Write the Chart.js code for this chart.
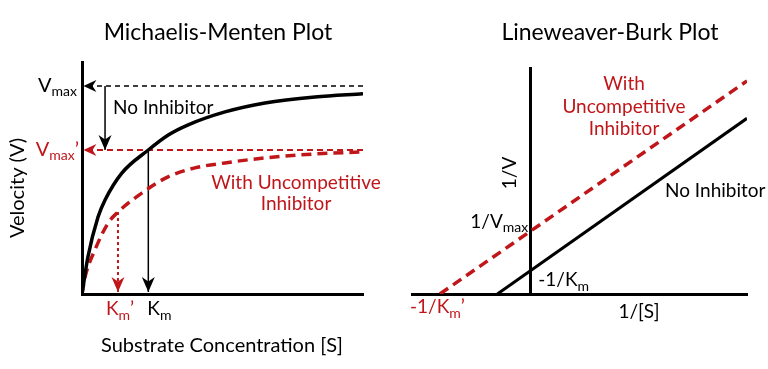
<!DOCTYPE html>
<html lang="en">
<head>
<meta charset="UTF-8" />
<title>Michaelis-Menten and Lineweaver-Burk Plots</title>
<script src="https://cdn.jsdelivr.net/npm/chart.js"></script>
<style>
  body { margin: 0; background: #fff; }
  .wrap { position: relative; width: 768px; height: 369px; }
  canvas { position: absolute; top: 0; }
  #mm { left: 0; }
  #lb { left: 384px; }
</style>
</head>
<body>
<div class="wrap">
  <canvas id="mm" width="384" height="369"></canvas>
  <canvas id="lb" width="384" height="369"></canvas>
</div>
<script>
// Michaelis-Menten curves (S in arbitrary units, V relative to Vmax)
const mmS      = [0, 0.21, 0.57, 0.82, 1.41, 2.36, 3.07, 3.78, 5.09, 6.51, 8.29, 10];
const mmV      = [0, 0.178, 0.370, 0.452, 0.580, 0.692, 0.764, 0.813, 0.875, 0.918, 0.947, 0.962];
const mmSInhib = [0, 0.11, 0.46, 0.93, 1.28, 2.14, 3.06, 4.02, 5.09, 6.51, 8.29, 10];
const mmVInhib = [0, 0.082, 0.212, 0.341, 0.394, 0.486, 0.563, 0.606, 0.630, 0.654, 0.673, 0.683];
const vmax = 1.0, vmaxPrime = 0.692;
const km = 2.36, kmPrime = 1.28, kmPrimeV = 0.394;
const dropS = 0.82;   // where the Vmax -> Vmax' arrow sits

// Lineweaver-Burk lines (1/[S], 1/V)
const lbX      = [-1.0, 6.6];
const lbY      = [0, 6.53];
const lbXInhib = [-2.75, 6.6];
const lbYInhib = [0, 7.92];

const RED = '#c0161a';
const FONT = 'Lato, "Open Sans", sans-serif';

const pts = (xs, ys) => xs.map((x, i) => ({ x: x, y: ys[i] }));

function arrowHead(ctx, x, y, ang, len, half, color) {
  ctx.save();
  ctx.translate(x, y);
  ctx.rotate(ang);
  ctx.beginPath();
  ctx.moveTo(0, 0);
  ctx.lineTo(-len, -half);
  ctx.lineTo(-len * 0.7, 0);
  ctx.lineTo(-len, half);
  ctx.closePath();
  ctx.fillStyle = color;
  ctx.fill();
  ctx.restore();
}

// parts: [text, size, dy]
function rich(ctx, parts, x, y, align, color) {
  ctx.save();
  ctx.fillStyle = color;
  ctx.textBaseline = 'alphabetic';
  ctx.textAlign = 'left';
  let w = 0;
  parts.forEach(p => { ctx.font = p[1] + 'px ' + FONT; w += ctx.measureText(p[0]).width; });
  let cx = align === 'right' ? x - w : align === 'center' ? x - w / 2 : x;
  parts.forEach(p => {
    ctx.font = p[1] + 'px ' + FONT;
    ctx.fillText(p[0], cx, y + (p[2] || 0));
    cx += ctx.measureText(p[0]).width;
  });
  ctx.restore();
}

function text(ctx, s, x, y, size, color, rot) {
  ctx.save();
  ctx.font = size + 'px ' + FONT;
  ctx.fillStyle = color;
  ctx.textAlign = 'center';
  ctx.textBaseline = 'middle';
  ctx.translate(x, y);
  if (rot) ctx.rotate(rot);
  ctx.fillText(s, 0, 0);
  ctx.restore();
}

// arrow heads at the last point of datasets flagged with `arrow`
const arrows = {
  id: 'arrows',
  afterDatasetsDraw(chart) {
    const ctx = chart.ctx;
    chart.data.datasets.forEach((ds, i) => {
      if (!ds.arrow) return;
      const el = chart.getDatasetMeta(i).data;
      const a = el[el.length - 2], b = el[el.length - 1];
      arrowHead(ctx, b.x, b.y, Math.atan2(b.y - a.y, b.x - a.x), ds.arrow[0], ds.arrow[1], ds.borderColor);
    });
  }
};

const mmLabels = {
  id: 'mmLabels',
  afterDraw(chart) {
    const ctx = chart.ctx, xs = chart.scales.x, ys = chart.scales.y, a = chart.chartArea;
    text(ctx, 'Michaelis-Menten Plot', 218, 33, 23, '#000');
    rich(ctx, [['V', 20], ['max', 14, 4]], a.left - 5, ys.getPixelForValue(vmax) + 6, 'right', '#000');
    rich(ctx, [['V', 20], ['max', 14, 4], ['\u2019', 20]], a.left - 3, ys.getPixelForValue(vmaxPrime) + 6, 'right', RED);
    rich(ctx, [['No Inhibitor', 19]], xs.getPixelForValue(dropS) + 8, ys.getPixelForValue(vmax) + 28, 'left', '#000');
    text(ctx, 'With Uncompetitive', 296, ys.getPixelForValue(vmaxPrime) + 33, 19, RED);
    text(ctx, 'Inhibitor', 296, ys.getPixelForValue(vmaxPrime) + 54, 19, RED);
    rich(ctx, [['K', 19], ['m', 14, 5], ['\u2019', 19]], xs.getPixelForValue(kmPrime) - 12, a.bottom + 21, 'left', RED);
    rich(ctx, [['K', 19], ['m', 14, 5]], xs.getPixelForValue(km) - 1, a.bottom + 21, 'left', '#000');
    text(ctx, 'Substrate Concentration [S]', 222, 346, 20, '#000');
    text(ctx, 'Velocity (V)', 18, 188, 20, '#000', -Math.PI / 2);
  }
};

const lbLabels = {
  id: 'lbLabels',
  afterDraw(chart) {
    const ctx = chart.ctx, xs = chart.scales.x, a = chart.chartArea;
    const x0 = xs.getPixelForValue(0);
    text(ctx, 'Lineweaver-Burk Plot', 226, 33, 23, '#000');
    text(ctx, '1/V', x0 - 20, 173, 19, '#000', -Math.PI / 2);
    rich(ctx, [['1/V', 19], ['max', 14, 4]], x0 - 2, 228, 'right', '#000');
    rich(ctx, [['-1/K', 19], ['m', 14, 5]], x0 + 8, a.bottom - 8, 'left', '#000');
    rich(ctx, [['-1/K', 19], ['m', 14, 5], ['\u2019', 19]], a.left - 2, a.bottom + 19, 'left', RED);
    text(ctx, '1/[S]', 255, 312, 19, '#000');
    rich(ctx, [['No Inhibitor', 19]], 281, 197, 'left', '#000');
    text(ctx, 'With', 240, 84, 19, RED);
    text(ctx, 'Uncompetitive', 240, 107, 19, RED);
    text(ctx, 'Inhibitor', 240, 129, 19, RED);
  }
};

const axisOpts = (min, max, extra) => Object.assign({
  type: 'linear', min: min, max: max,
  grid: { display: false, drawTicks: false },
  ticks: { display: false },
  border: { display: true, color: '#000', width: 3 }
}, extra || {});

const line = (data, color, width, dash, extra) => Object.assign({
  data: data, borderColor: color, borderWidth: width, borderDash: dash || [],
  pointRadius: 0, showLine: true, fill: false
}, extra || {});

new Chart(document.getElementById('mm'), {
  type: 'scatter',
  data: {
    datasets: [
      line(pts(mmS, mmV), '#000', 3.5, [], { cubicInterpolationMode: 'monotone' }),
      line(pts(mmSInhib, mmVInhib), RED, 3.5, [10, 6], { cubicInterpolationMode: 'monotone' }),
      line([{ x: 10, y: vmax }, { x: 0.05, y: vmax }], '#000', 1.5, [5, 4], { arrow: [13, 6] }),
      line([{ x: 10, y: vmaxPrime }, { x: 0.05, y: vmaxPrime }], RED, 2, [6, 4], { arrow: [13, 6] }),
      line([{ x: dropS, y: vmax }, { x: dropS, y: vmaxPrime }], '#000', 1.5, [], { arrow: [15, 6.5] }),
      line([{ x: km, y: vmaxPrime }, { x: km, y: 0.01 }], '#000', 1.5, [], { arrow: [15, 6.5] }),
      line([{ x: kmPrime, y: kmPrimeV }, { x: kmPrime, y: 0.01 }], RED, 2, [3, 3], { arrow: [15, 6.5] })
    ]
  },
  options: {
    responsive: false,
    animation: false,
    events: [],
    layout: { padding: { left: 82, right: 21, top: 62, bottom: 75 } },
    plugins: { legend: { display: false }, tooltip: { enabled: false } },
    scales: {
      x: axisOpts(0, 10),
      y: axisOpts(0, 1.115)
    }
  },
  plugins: [arrows, mmLabels]
});

new Chart(document.getElementById('lb'), {
  type: 'scatter',
  data: {
    datasets: [
      line(pts(lbX, lbY), '#000', 3),
      line(pts(lbXInhib, lbYInhib), RED, 3.5, [10, 6])
    ]
  },
  options: {
    responsive: false,
    animation: false,
    events: [],
    layout: { padding: { left: 28, right: 21, top: 68, bottom: 75 } },
    plugins: { legend: { display: false }, tooltip: { enabled: false } },
    scales: {
      x: axisOpts(-3.6, 6.6),
      y: axisOpts(0, 8.4, { position: { x: 0 } })
    }
  },
  plugins: [lbLabels]
});
</script>
</body>
</html>
